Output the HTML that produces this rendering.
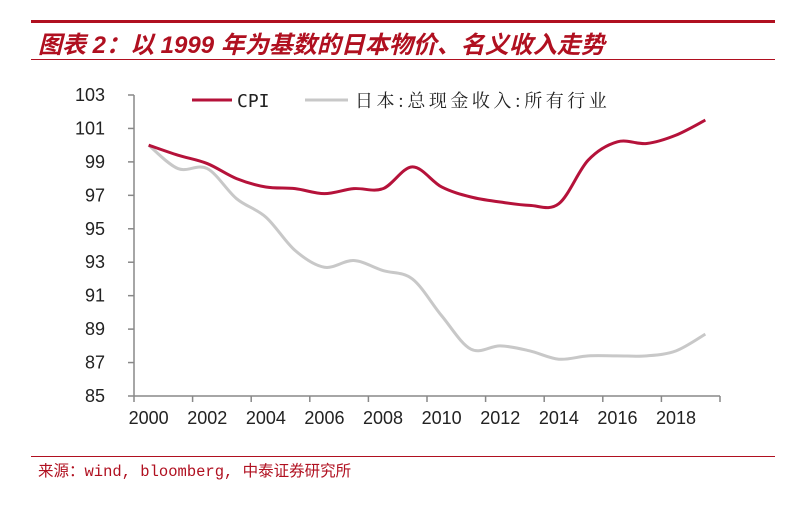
<!DOCTYPE html>
<html><head><meta charset="utf-8"><style>
body{margin:0;background:#fff;width:801px;height:504px;overflow:hidden;font-family:"Liberation Sans","Noto Sans CJK SC",sans-serif;}
</style></head><body>
<svg width="801" height="504">
<rect x="31" y="20" width="744" height="3" fill="#b01020"/>
<text x="38" y="53" font-size="24" font-weight="bold" font-style="italic" fill="#b01020" font-family="'Liberation Sans','Noto Sans CJK SC',sans-serif">图表 2：以 1999 年为基数的日本物价、名义收入走势</text>
<rect x="31" y="59" width="744" height="1" fill="#b01020"/>
<g id="axes"></g>
<g id="series"></g>
<g>
<line x1="192" y1="100" x2="232" y2="100" stroke="#b5123a" stroke-width="3"/>
<text x="237" y="107" font-size="18" fill="#222" font-family="'DejaVu Sans Mono',monospace">CPI</text>
<line x1="305" y1="100" x2="348" y2="100" stroke="#c8c8c8" stroke-width="3"/>
<text x="355" y="107" font-size="18" letter-spacing="3.5" fill="#222" font-family="'Noto Serif CJK SC',serif">日本:总现金收入:所有行业</text>
</g>
<rect x="31" y="456" width="744" height="1" fill="#b01020"/>
<text x="38" y="476" font-size="15.5" fill="#b01020" font-family="'Liberation Mono','Noto Sans CJK SC',monospace">来源：wind, bloomberg, 中泰证券研究所</text>
</svg>
<script>
const years=[2000,2001,2002,2003,2004,2005,2006,2007,2008,2009,2010,2011,2012,2013,2014,2015,2016,2017,2018,2019];
const cpiValues=[100,99.4,98.9,98.0,97.5,97.4,97.1,97.4,97.4,98.7,97.5,96.9,96.6,96.4,96.5,99.1,100.2,100.1,100.6,101.5];
const wageValues=[100,98.6,98.6,96.8,95.7,93.7,92.7,93.1,92.5,92.0,89.8,87.8,88.0,87.7,87.2,87.4,87.4,87.4,87.7,88.7];
const yTicks=[85,87,89,91,93,95,97,99,101,103];
const xTickLabels=["2000","2002","2004","2006","2008","2010","2012","2014","2016","2018"];
const NS="http://www.w3.org/2000/svg";
const x0=134,slot=29.3,yBase=396,yTop=95,yMin=85,yMax=103;
function xs(i){return x0+slot*(i+0.5);}
function ys(v){return yBase-(v-yMin)/(yMax-yMin)*(yBase-yTop);}
function mk(t,a,p){const e=document.createElementNS(NS,t);for(const k in a)e.setAttribute(k,a[k]);p.appendChild(e);return e;}
const axes=document.getElementById('axes');
const xEnd=x0+slot*years.length;
let ax=mk('line',{x1:x0,y1:yTop,x2:x0,y2:yBase,stroke:'#888','stroke-width':1.5},axes);


let bx=mk('line',{x1:x0,y1:yBase,x2:xEnd,y2:yBase,stroke:'#888','stroke-width':1.5},axes);


yTicks.forEach(v=>{
 const y=ys(v);
 mk('line',{x1:x0-6,y1:y,x2:x0,y2:y,stroke:'#888','stroke-width':1.5},axes);
 const t=mk('text',{x:105,y:y+6,'text-anchor':'end','font-size':18,fill:'#222'},axes);
 t.textContent=v;
 
 
});
for(let i=0;i<=years.length;i+=2){
 const x=x0+slot*i;
 mk('line',{x1:x,y1:yBase,x2:x,y2:yBase+6,stroke:'#888','stroke-width':1.5},axes);
}
xTickLabels.forEach((l,k)=>{
 const t=mk('text',{x:xs(k*2),y:424,'text-anchor':'middle','font-size':18,fill:'#222'},axes);
 t.textContent=l;
 
 
});
function pathFor(vals){
 const p=vals.map((v,i)=>[xs(i),ys(v)]);
 let d=`M${p[0][0]},${p[0][1]}`;
 for(let i=0;i<p.length-1;i++){
  const a=p[Math.max(0,i-1)],b=p[i],c=p[i+1],e=p[Math.min(p.length-1,i+2)];
  const c1=[b[0]+(c[0]-a[0])/6,b[1]+(c[1]-a[1])/6],c2=[c[0]-(e[0]-b[0])/6,c[1]-(e[1]-b[1])/6];
  d+=` C${c1[0]},${c1[1]} ${c2[0]},${c2[1]} ${c[0]},${c[1]}`;
 }
 return d;
}
const sg=document.getElementById('series');
const w=mk('path',{d:pathFor(wageValues),fill:'none',stroke:'#c8c8c8','stroke-width':3},sg);


const c=mk('path',{d:pathFor(cpiValues),fill:'none',stroke:'#b5123a','stroke-width':3},sg);


</script>
</body></html>
